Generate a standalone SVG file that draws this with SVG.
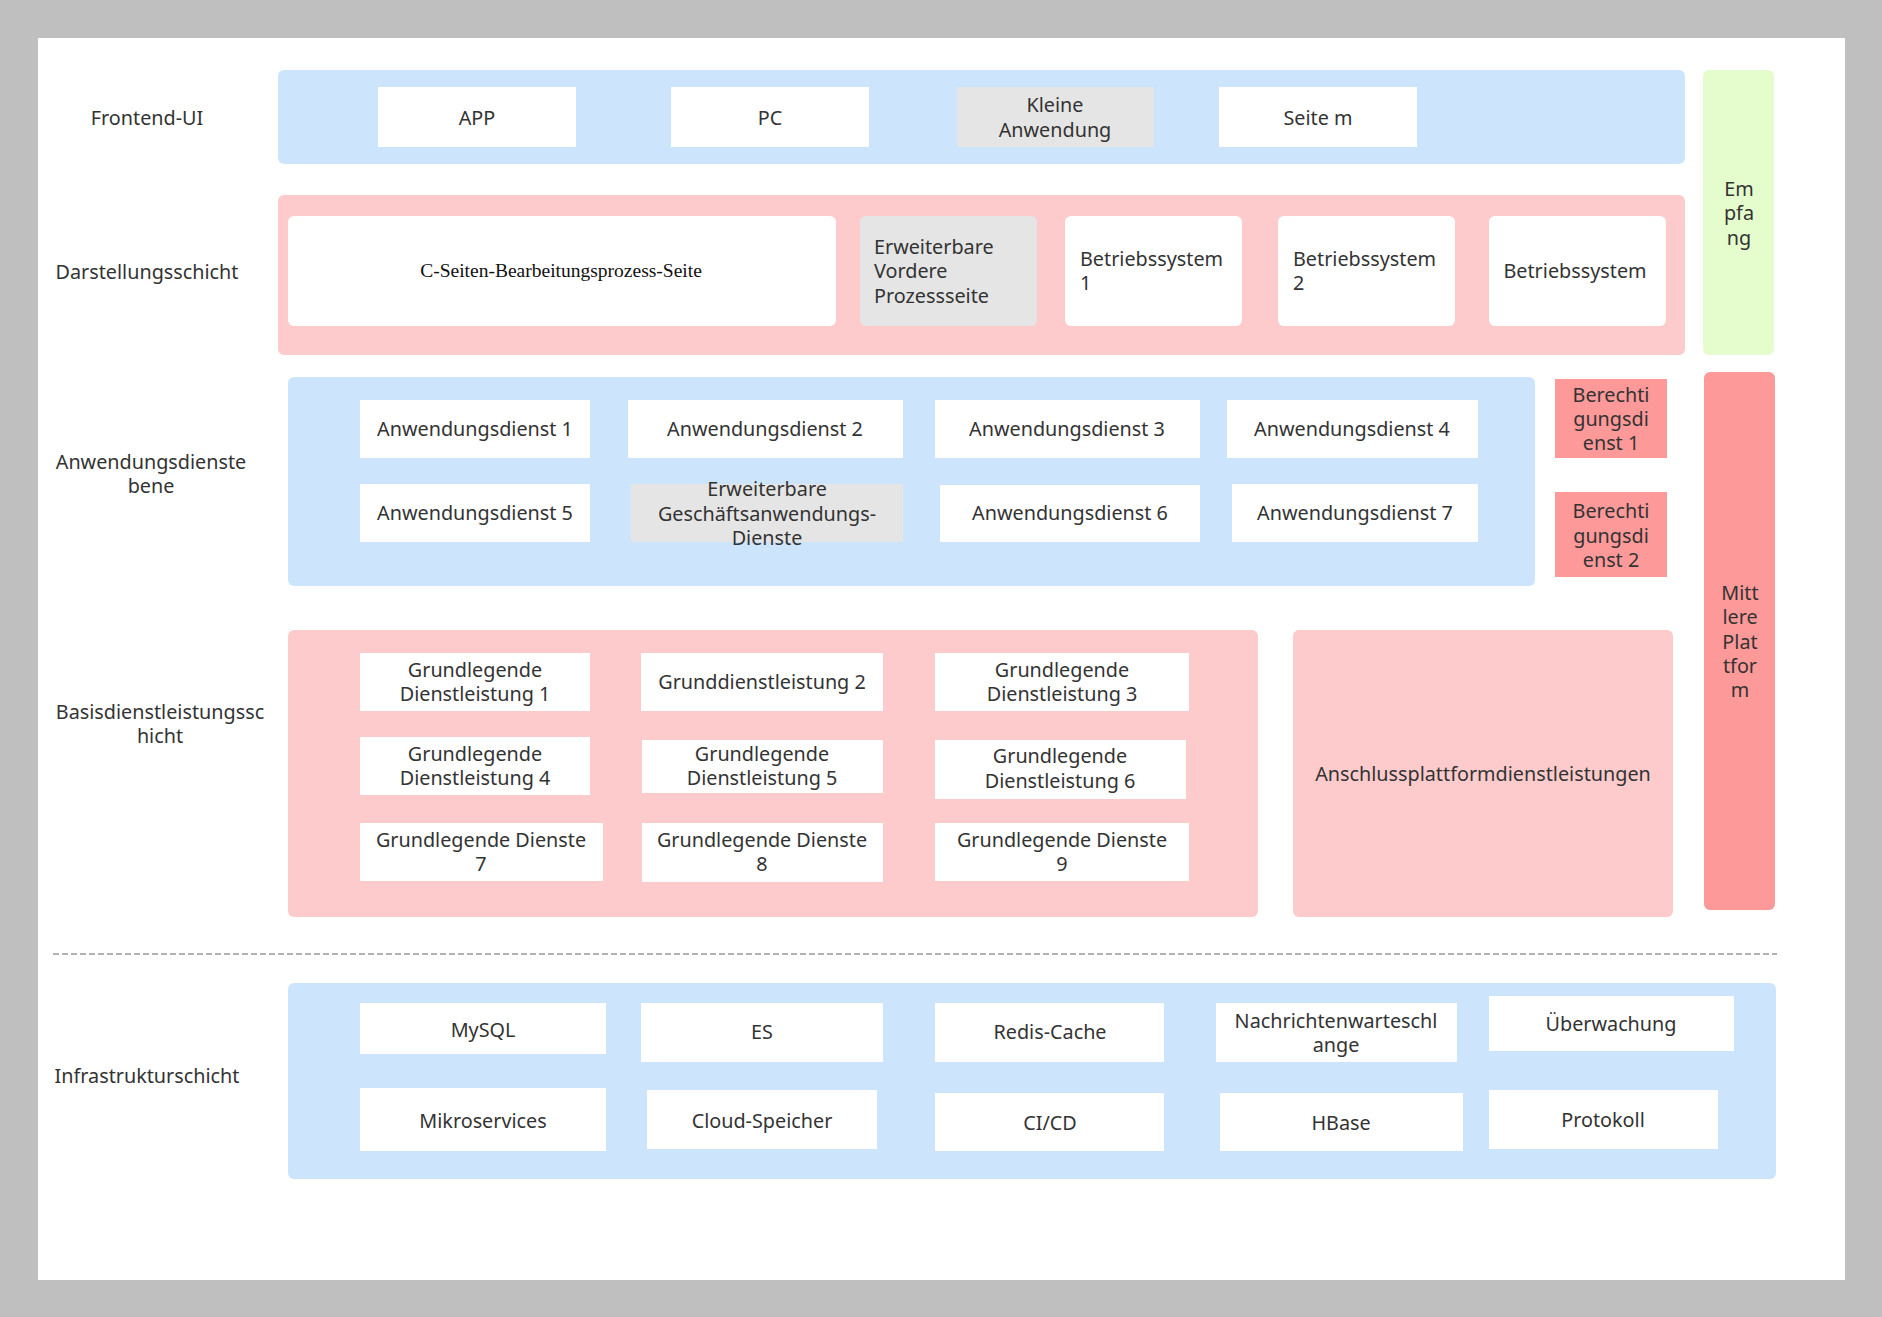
<svg xmlns="http://www.w3.org/2000/svg" width="1882" height="1317" viewBox="0 0 1882 1317">
<style>
text{font-family:"Noto Sans","Open Sans","Liberation Sans",sans-serif;font-size:19.8px;fill:#333;dominant-baseline:central}
.c{text-anchor:middle}
.serif{font-family:"Liberation Serif","Times New Roman",serif;font-size:19.5px;fill:#111}
.blue{fill:#cce5fd}
.pink{fill:#fdcbcb}
.red{fill:#fe9999}
.green{fill:#e5fdcc}
.w{fill:#fff}
.g{fill:#e5e5e5}
.lbl{text-anchor:middle}
</style>
<rect x="0" y="0" width="1882" height="1317" fill="#bfbfbf"/>
<rect x="38" y="38" width="1807" height="1242" fill="#fff"/>

<g id="frontend-layer">
<rect class="blue" x="278" y="70" width="1407" height="94" rx="6"/>
<text class="lbl" x="147" y="117">Frontend-UI</text>
</g>
<g id="node-app"><rect class="w" x="378" y="87" width="198" height="60"/><text class="c" x="477" y="117">APP</text></g>
<g id="node-pc"><rect class="w" x="671" y="87" width="198" height="60"/><text class="c" x="770" y="117">PC</text></g>
<g id="node-kleine"><rect class="g" x="957" y="87" width="197" height="60"/><text class="c" x="1055" y="104">Kleine</text><text class="c" x="1055" y="129">Anwendung</text></g>
<g id="node-seitem"><rect class="w" x="1219" y="87" width="198" height="60"/><text class="c" x="1318" y="117">Seite m</text></g>

<g id="empfang"><rect class="green" x="1703" y="70" width="71" height="285" rx="6"/>
<text class="c" x="1739" y="188">Em</text><text class="c" x="1739" y="212">pfa</text><text class="c" x="1739" y="237">ng</text></g>

<g id="darstellung-layer">
<rect class="pink" x="278" y="195" width="1407" height="160" rx="6"/>
<text class="lbl" x="147" y="271">Darstellungsschicht</text>
</g>
<g id="node-cseiten"><rect class="w" x="288" y="216" width="548" height="110" rx="6"/><text class="c serif" x="561" y="270">C-Seiten-Bearbeitungsprozess-Seite</text></g>
<g id="node-erweiterbar-vordere"><rect class="g" x="860" y="216" width="177" height="110" rx="6"/>
<text x="874" y="246">Erweiterbare</text><text x="874" y="270">Vordere</text><text x="874" y="295">Prozessseite</text></g>
<g id="node-bs1"><rect class="w" x="1065" y="216" width="177" height="110" rx="6"/><text x="1080" y="258">Betriebssystem</text><text x="1080" y="282">1</text></g>
<g id="node-bs2"><rect class="w" x="1278" y="216" width="177" height="110" rx="6"/><text x="1293" y="258">Betriebssystem</text><text x="1293" y="282">2</text></g>
<g id="node-bs"><rect class="w" x="1489" y="216" width="177" height="110" rx="6"/><text class="c" x="1575" y="270">Betriebssystem</text></g>

<g id="anwendung-layer">
<rect class="blue" x="288" y="377" width="1247" height="209" rx="6"/>
<text class="lbl" x="151" y="461">Anwendungsdienste</text>
<text class="lbl" x="151" y="485">bene</text>
</g>
<g id="node-ad1"><rect class="w" x="360" y="400" width="230" height="58"/><text class="c" x="475" y="428">Anwendungsdienst 1</text></g>
<g id="node-ad2"><rect class="w" x="628" y="400" width="275" height="58"/><text class="c" x="765" y="428">Anwendungsdienst 2</text></g>
<g id="node-ad3"><rect class="w" x="935" y="400" width="265" height="58"/><text class="c" x="1067" y="428">Anwendungsdienst 3</text></g>
<g id="node-ad4"><rect class="w" x="1227" y="400" width="251" height="58"/><text class="c" x="1352" y="428">Anwendungsdienst 4</text></g>
<g id="node-ad5"><rect class="w" x="360" y="484" width="230" height="58"/><text class="c" x="475" y="512">Anwendungsdienst 5</text></g>
<g id="node-egd"><rect class="g" x="631" y="484" width="272" height="58"/>
<text class="c" x="767" y="488">Erweiterbare</text><text class="c" x="767" y="513">Geschäftsanwendungs-</text><text class="c" x="767" y="537">Dienste</text></g>
<g id="node-ad6"><rect class="w" x="940" y="485" width="260" height="57"/><text class="c" x="1070" y="512">Anwendungsdienst 6</text></g>
<g id="node-ad7"><rect class="w" x="1232" y="484" width="246" height="58"/><text class="c" x="1355" y="512">Anwendungsdienst 7</text></g>

<g id="node-bd1"><rect class="red" x="1555" y="379" width="112" height="79"/>
<text class="c" x="1611" y="394">Berechti</text><text class="c" x="1611" y="418">gungsdi</text><text class="c" x="1611" y="442">enst 1</text></g>
<g id="node-bd2"><rect class="red" x="1555" y="492" width="112" height="85"/>
<text class="c" x="1611" y="510">Berechti</text><text class="c" x="1611" y="535">gungsdi</text><text class="c" x="1611" y="559">enst 2</text></g>

<g id="mittlere"><rect class="red" x="1704" y="372" width="71" height="538" rx="6"/>
<text class="c" x="1740" y="592">Mitt</text><text class="c" x="1740" y="616">lere</text><text class="c" x="1740" y="641">Plat</text><text class="c" x="1740" y="665">tfor</text><text class="c" x="1740" y="689">m</text></g>

<g id="basis-layer">
<rect class="pink" x="288" y="630" width="970" height="287" rx="6"/>
<text class="lbl" x="160" y="711">Basisdienstleistungssc</text>
<text class="lbl" x="160" y="735">hicht</text>
</g>
<g id="node-gd1"><rect class="w" x="360" y="653" width="230" height="58"/><text class="c" x="475" y="669">Grundlegende</text><text class="c" x="475" y="693">Dienstleistung 1</text></g>
<g id="node-gd2"><rect class="w" x="641" y="653" width="242" height="58"/><text class="c" x="762" y="681">Grunddienstleistung 2</text></g>
<g id="node-gd3"><rect class="w" x="935" y="653" width="254" height="58"/><text class="c" x="1062" y="669">Grundlegende</text><text class="c" x="1062" y="693">Dienstleistung 3</text></g>
<g id="node-gd4"><rect class="w" x="360" y="737" width="230" height="58"/><text class="c" x="475" y="753">Grundlegende</text><text class="c" x="475" y="777">Dienstleistung 4</text></g>
<g id="node-gd5"><rect class="w" x="642" y="740" width="241" height="53"/><text class="c" x="762" y="753">Grundlegende</text><text class="c" x="762" y="777">Dienstleistung 5</text></g>
<g id="node-gd6"><rect class="w" x="935" y="740" width="251" height="59"/><text class="c" x="1060" y="755">Grundlegende</text><text class="c" x="1060" y="780">Dienstleistung 6</text></g>
<g id="node-gd7"><rect class="w" x="360" y="823" width="243" height="58"/><text class="c" x="481" y="839">Grundlegende Dienste</text><text class="c" x="481" y="863">7</text></g>
<g id="node-gd8"><rect class="w" x="642" y="823" width="241" height="59"/><text class="c" x="762" y="839">Grundlegende Dienste</text><text class="c" x="762" y="863">8</text></g>
<g id="node-gd9"><rect class="w" x="935" y="823" width="254" height="58"/><text class="c" x="1062" y="839">Grundlegende Dienste</text><text class="c" x="1062" y="863">9</text></g>

<g id="node-anschluss"><rect class="pink" x="1293" y="630" width="380" height="287" rx="6"/><text class="c" x="1483" y="773">Anschlussplattformdienstleistungen</text></g>

<g id="connectors">
<line x1="53" y1="954" x2="1777" y2="954" stroke="#999" stroke-width="1.5" stroke-dasharray="6,3"/>
</g>

<g id="infra-layer">
<rect class="blue" x="288" y="983" width="1488" height="196" rx="6"/>
<text class="lbl" x="147" y="1075">Infrastrukturschicht</text>
</g>
<g id="node-mysql"><rect class="w" x="360" y="1003" width="246" height="51"/><text class="c" x="483" y="1029">MySQL</text></g>
<g id="node-es"><rect class="w" x="641" y="1003" width="242" height="59"/><text class="c" x="762" y="1031">ES</text></g>
<g id="node-redis"><rect class="w" x="935" y="1003" width="229" height="59"/><text class="c" x="1050" y="1031">Redis-Cache</text></g>
<g id="node-mq"><rect class="w" x="1216" y="1003" width="241" height="59"/><text class="c" x="1336" y="1020">Nachrichtenwarteschl</text><text class="c" x="1336" y="1044">ange</text></g>
<g id="node-ueberwachung"><rect class="w" x="1489" y="996" width="245" height="55"/><text class="c" x="1611" y="1023">Überwachung</text></g>
<g id="node-mikro"><rect class="w" x="360" y="1088" width="246" height="63"/><text class="c" x="483" y="1120">Mikroservices</text></g>
<g id="node-cloud"><rect class="w" x="647" y="1090" width="230" height="59"/><text class="c" x="762" y="1120">Cloud-Speicher</text></g>
<g id="node-cicd"><rect class="w" x="935" y="1093" width="229" height="58"/><text class="c" x="1050" y="1122">CI/CD</text></g>
<g id="node-hbase"><rect class="w" x="1220" y="1093" width="243" height="58"/><text class="c" x="1341" y="1122">HBase</text></g>
<g id="node-protokoll"><rect class="w" x="1489" y="1090" width="229" height="59"/><text class="c" x="1603" y="1119">Protokoll</text></g>
</svg>
